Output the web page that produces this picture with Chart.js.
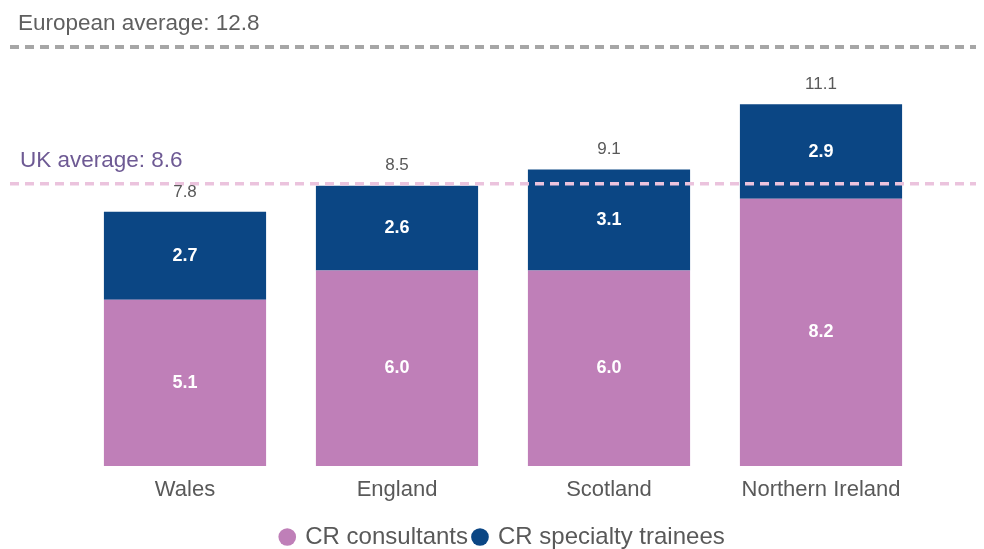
<!DOCTYPE html>
<html>
<head>
<meta charset="utf-8">
<script src="https://cdn.jsdelivr.net/npm/chart.js@4"></script>
<style>
    html, body { margin: 0; padding: 0; background: #fff; }
    #wrap { width: 984px; height: 549px; }
</style>
</head>
<body>
<div id="wrap"><canvas id="crChart"></canvas></div>
<script>
// ===== Data =====
const countries = ['Wales', 'England', 'Scotland', 'Northern Ireland'];
const consultants = [5.1, 6.0, 6.0, 8.2];
const trainees = [2.7, 2.6, 3.1, 2.9];
const totals = [7.8, 8.5, 9.1, 11.1];
const ukAverage = 8.6;
const europeanAverage = 12.8;

const FONT = "'Liberation Sans', Arial, sans-serif";

// Averages, segment values and totals
const labelsPlugin = {
    id: 'crLabels',
    afterDatasetsDraw(chart) {
        const ctx = chart.ctx;
        const y = chart.scales.y;
        const w = chart.width;

        ctx.save();

        // European average line
        const euY = y.getPixelForValue(europeanAverage) - 2;
        ctx.strokeStyle = '#a6a6a6';
        ctx.lineWidth = 4;
        ctx.setLineDash([9, 6]);
        ctx.beginPath();
        ctx.moveTo(10, euY);
        ctx.lineTo(w - 8, euY);
        ctx.stroke();

        // UK average line
        const ukY = y.getPixelForValue(ukAverage) - 2;
        ctx.strokeStyle = '#ebc3dd';
        ctx.lineWidth = 3.5;
        ctx.beginPath();
        ctx.moveTo(10, ukY);
        ctx.lineTo(w - 8, ukY);
        ctx.stroke();
        ctx.setLineDash([]);

        ctx.textAlign = 'left';
        ctx.textBaseline = 'middle';
        ctx.font = '22.5px ' + FONT;
        ctx.fillStyle = '#5f5f5f';
        ctx.fillText('European average: ' + europeanAverage, 18, euY - 23);
        ctx.fillStyle = '#6e5a94';
        ctx.fillText('UK average: ' + ukAverage, 20, ukY - 23);

        // values inside segments
        ctx.textAlign = 'center';
        ctx.font = 'bold 18px ' + FONT;
        ctx.fillStyle = '#ffffff';
        chart.data.datasets.forEach((ds, i) => {
            chart.getDatasetMeta(i).data.forEach((bar, j) => {
                const mid = (bar.y + bar.base) / 2;
                ctx.fillText(ds.data[j].toFixed(1), bar.x, mid);
            });
        });

        // totals above bars
        ctx.font = '17px ' + FONT;
        ctx.fillStyle = '#595959';
        const top = chart.getDatasetMeta(1).data;
        top.forEach((bar, j) => {
            ctx.fillText(totals[j].toFixed(1), bar.x, bar.y - 20);
        });

        ctx.restore();
    }
};

new Chart(document.getElementById('crChart').getContext('2d'), {
    type: 'bar',
    data: {
        labels: countries,
        datasets: [
            {
                label: 'CR consultants',
                data: consultants,
                backgroundColor: '#bf7fb8',
                barPercentage: 0.765,
                categoryPercentage: 1
            },
            {
                label: 'CR specialty trainees',
                data: trainees,
                backgroundColor: '#0b4684',
                barPercentage: 0.765,
                categoryPercentage: 1
            }
        ]
    },
    options: {
        responsive: true,
        maintainAspectRatio: false,
        animation: false,
        layout: {
            padding: { left: 79, right: 57, top: 0, bottom: -10 }
        },
        plugins: {
            legend: {
                position: 'bottom',
                labels: {
                    color: '#595959',
                    font: { family: FONT, size: 24, lineHeight: 1 },
                    usePointStyle: true,
                    pointStyle: 'circle',
                    boxWidth: 12,
                    boxHeight: 12.5,
                    padding: 6
                }
            },
            tooltip: { enabled: false }
        },
        scales: {
            x: {
                stacked: true,
                grid: { display: false },
                border: { display: false },
                ticks: {
                    color: '#595959',
                    font: { family: FONT, size: 22 },
                    padding: 3
                },
                afterFit(scale) {
                    scale.height = 53;
                }
            },
            y: {
                stacked: true,
                display: false,
                min: 0,
                max: 14.3
            }
        }
    },
    plugins: [labelsPlugin]
});
</script>
</body>
</html>
